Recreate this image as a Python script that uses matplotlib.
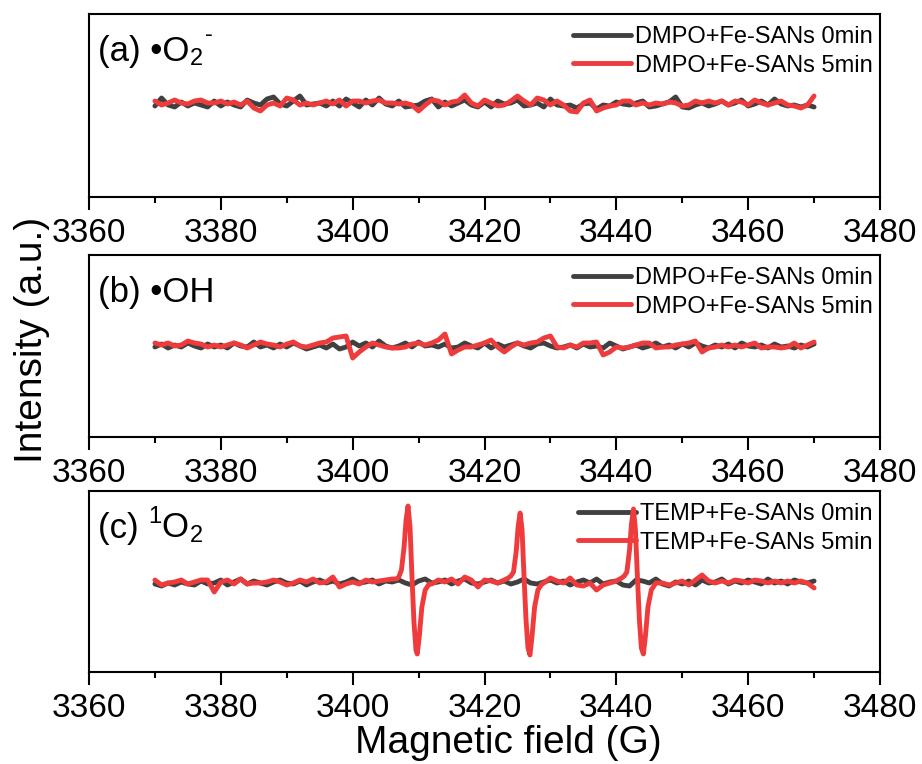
import numpy as np
import matplotlib
matplotlib.use("Agg")
import matplotlib.pyplot as plt
from matplotlib.ticker import MultipleLocator

plt.rcParams["font.family"] = ["Liberation Sans", "DejaVu Sans"]

# Magnetic field grid of the recorded spectra (G)
field = np.arange(3370, 3471, 1.0)

# (a) DMPO spin trap, superoxide channel
a_0min = [-3, 5, -2, -4, 1, -3, 0, -2, -4, 2,
          -3, 1, -2, -4, 3, 0, -2, 4, 6, -1,
          -3, 2, 7, -2, -1, 0, -3, 2, -3, 4,
          0, -4, 3, -2, 5, -1, -3, 2, -4, -3,
          -2, 2, 4, -4, 1, -3, 0, 3, -2, -4,
          1, -4, 2, -1, 0, 3, -3, -2, 0, -4,
          4, -2, -3, -2, -5, -1, 0, -6, -2, -3,
          1, -1, -2, 0, 2, -4, -3, -1, 1, 6,
          -4, -5, -2, 0, -3, -1, 2, -2, 0, 3,
          -3, -1, 2, -2, 4, -1, -3, -2, -4, -2,
          -4]
a_5min = [2, -2, 0, 3, 0, -1, 2, 3, 0, 0,
          2, -1, 1, -2, 2, -5, -8, -2, 0, -3,
          5, 3, -2, 0, -2, 0, 2, -1, 3, -3,
          2, 2, 0, 2, 3, 0, 0, -1, 0, -2,
          -8, -2, 3, 2, -2, 1, 2, 8, 0, -3,
          3, 0, -3, -2, 2, 7, 2, -2, 5, 3,
          -2, 2, -2, -8, -9, 0, 3, -8, -5, -3,
          -2, 2, 2, -2, 0, -2, 0, -1, 1, 0,
          -3, -2, 2, 0, 2, 0, 2, -2, 2, 1,
          -2, 3, 0, -2, 0, 2, -2, -3, -5, -2,
          7]

# (b) DMPO spin trap, hydroxyl channel
b_0min = [-2, 1, -3, 0, -2, 2, -1, -3, 1, -2,
          0, -3, 2, -1, -2, 3, -2, 0, -3, 1,
          -2, 2, -1, -4, -2, 0, -3, 1, -4, -2,
          3, -1, 2, -2, 4, -1, -3, -1, 2, -2,
          3, -1, 0, -2, 1, -3, -2, 2, -1, -3,
          2, -3, 1, -2, 0, 2, -1, -3, 1, 2,
          -1, -3, -2, 0, -3, 1, -2, -1, -3, 2,
          -1, -4, -2, 0, -3, -1, 2, -2, 0, -3,
          1, -2, 2, -1, -3, 0, -2, 1, -3, 2,
          -1, -2, 0, -3, 1, -2, -1, -3, 0, -2,
          1]
b_5min = [2, 0, 2, -1, 0, 4, 2, 1, -2, 0,
          -2, 0, 2, 0, -3, 0, 3, 1, 0, -2,
          1, 3, -1, -2, 0, 2, 3, 7, 8, 9,
          -13, -7, -2, 2, 0, -2, -3, -3, -2, 1,
          2, 0, 2, 5, 11, -9, -5, -2, -2, 0,
          2, 5, -2, -7, -2, 2, 0, 2, 3, 7,
          9, -2, -3, 0, -2, 2, 2, 3, -10, -7,
          -2, -3, -2, 0, 2, 2, -3, -2, -2, 0,
          1, 2, 4, -7, -3, -2, 0, -2, 0, -2,
          0, 2, -3, -2, -2, -3, -2, 2, -3, 0,
          3]

# (c) TEMP spin trap, singlet oxygen channel
c_0min = [-2, -4, -1, -3, 0, -2, -3, 1, -2, -1,
          2, -3, 0, 3, -2, 1, -1, -3, 0, 2,
          -1, -2, 1, -3, 0, 2, -1, 1, -2, 0,
          3, -1, 0, 2, -2, 1, 0, 2, -1, -3,
          1, 3, -1, 0, 2, -2, 1, 3, -1, -2,
          0, 2, -1, 1, -2, 0, 3, -1, -2, 0,
          2, -1, 1, -3, 0, 2, -1, 3, -2, 0,
          1, -3, -4, 2, 1, -1, 3, -2, -4, 0,
          -2, 1, -3, 2, -1, 0, 3, -2, 1, -1,
          2, 0, -2, 3, -1, 1, -2, 2, 0, -1,
          1]
c_5min_baseline = [2, -3, -1, 0, 2, -2, 0, 2, 2, -10,
                   0, 2, -2, 3, -2, -1, -1, 0, 2, 0,
                   -3, -1, 2, 0, 3, -1, 0, 5, -5, -2,
                   0, -2, 2, 0, 1, 2, 3, 3, 0, 0,
                   0, 0, -2, 2, 0, 3, -2, 5, 2, -5,
                   2, 1, -1, 2, 4, 0, 0, 0, 0, -1,
                   4, 1, -1, 4, -3, -4, -1, -8, -3, -1,
                   1, 4, 0, 0, 0, 0, -1, -1, -3, -1,
                   1, -3, 2, 7, 1, -1, 1, -1, 2, 1,
                   -1, 2, 1, -1, 1, -1, 1, -1, 1, -1,
                   -6]

# TEMPO triplet lines of the 5 min spectrum (finer field sampling)
c_line1_field = [3406.6, 3407.0, 3407.4, 3407.8, 3408.1, 3408.4, 3408.7, 3409.0,
                 3409.3, 3409.6, 3409.8, 3410.1, 3410.5, 3411.0, 3411.6]
c_line1_value = [3, 5, 12, 35, 62, 76, 55, 5, -40, -68, -72, -55, -25, -8, -2]
c_line2_field = [3423.6, 3424.0, 3424.4, 3424.8, 3425.1, 3425.4, 3425.7, 3426.0,
                 3426.3, 3426.6, 3426.9, 3427.2, 3427.6, 3428.1, 3428.7]
c_line2_value = [4, 6, 10, 30, 55, 69, 52, 5, -38, -66, -73, -55, -25, -8, -2]
c_line3_field = [3440.8, 3441.2, 3441.6, 3442.0, 3442.3, 3442.6, 3442.9, 3443.2,
                 3443.5, 3443.8, 3444.1, 3444.4, 3444.8, 3445.3, 3445.9]
c_line3_value = [4, 6, 10, 32, 58, 73, 52, 5, -38, -66, -72, -55, -25, -8, -2]

legend_dmpo = ["DMPO+Fe-SANs 0min", "DMPO+Fe-SANs 5min"]
legend_temp = ["TEMP+Fe-SANs 0min", "TEMP+Fe-SANs 5min"]

GRAY = "#404040"
RED = "#EF3B3B"
LW = 3.5

# merge the coarse baseline with the finely sampled triplet lines
line_fields = [c_line1_field, c_line2_field, c_line3_field]
line_values = [c_line1_value, c_line2_value, c_line3_value]
keep = np.ones(field.size, dtype=bool)
for lf in line_fields:
    keep &= ~((field >= lf[0]) & (field <= lf[-1]))
c_red_x = np.concatenate([field[keep]] + [np.asarray(f) for f in line_fields])
c_red_y = np.concatenate([np.asarray(c_5min_baseline, float)[keep]]
                         + [np.asarray(v, float) for v in line_values])
order = np.argsort(c_red_x)
c_red_x, c_red_y = c_red_x[order], c_red_y[order]

W, H = 922, 764
fig = plt.figure(figsize=(W / 100, H / 100), dpi=100)


def panel(left, top, right, bottom):
    return fig.add_axes([left / W, 1 - bottom / H, (right - left) / W, (bottom - top) / H])


ax_a = panel(89, 14, 880, 197)
ax_b = panel(89, 255, 880, 437)
ax_c = panel(89, 491, 880, 672)

panels = [
    (ax_a, field, a_0min, field, a_5min, legend_dmpo, (-94, 89)),
    (ax_b, field, b_0min, field, b_5min, legend_dmpo, (-92, 90)),
    (ax_c, field, c_0min, c_red_x, c_red_y, legend_temp, (-90, 91)),
]

line_kw = dict(lw=LW, solid_joinstyle="round", solid_capstyle="round")
for ax, x0, y0, x5, y5, labels, ylim in panels:
    ax.plot(x0, y0, color=GRAY, label=labels[0], **line_kw)
    ax.plot(x5, y5, color=RED, label=labels[1], **line_kw)
    ax.set_xlim(3360, 3480)
    ax.set_ylim(*ylim)
    ax.xaxis.set_major_locator(MultipleLocator(20))
    ax.xaxis.set_minor_locator(MultipleLocator(10))
    ax.tick_params(axis="x", which="major", direction="out", length=9, width=1.5,
                   labelsize=24, pad=6)
    ax.tick_params(axis="x", which="minor", direction="out", length=4.5, width=1.5)
    ax.set_yticks([])
    for s in ax.spines.values():
        s.set_linewidth(1.5)
    leg = ax.legend(loc="upper right", bbox_to_anchor=(1.007, 1.005), frameon=False,
                    fontsize=17, handlelength=2.45, handletextpad=0.18,
                    labelspacing=0.28, borderaxespad=0.35, borderpad=0.2)
    leg.set_zorder(1)

# panel titles with chemical sub/superscripts
LBL = 25
SMALL = 17
ty = 1 - 47 / 182

t = ax_a.text(0.011, ty, "(a) \u2022O", transform=ax_a.transAxes, fontsize=LBL, va="baseline")
s = ax_a.annotate("2", xy=(1, 0), xycoords=t, xytext=(0.5, 2), textcoords="offset points",
                  fontsize=SMALL, va="baseline")
ax_a.annotate("-", xy=(1, 0), xycoords=s, xytext=(1.5, 21), textcoords="offset points",
              fontsize=SMALL, va="baseline")

ax_b.text(0.011, ty, "(b) \u2022OH", transform=ax_b.transAxes, fontsize=LBL, va="baseline")

t = ax_c.text(0.011, ty, "(c) ", transform=ax_c.transAxes, fontsize=LBL, va="baseline")
sup = ax_c.annotate("1", xy=(1, 0), xycoords=t, xytext=(0, 5.3 + 10), textcoords="offset points",
                    fontsize=SMALL, va="baseline")
o = ax_c.annotate("O", xy=(1, 0), xycoords=sup, xytext=(0.5, 3.6 - 10), textcoords="offset points",
                  fontsize=LBL, va="baseline")
ax_c.annotate("2", xy=(1, 0), xycoords=o, xytext=(0.5, 2), textcoords="offset points",
              fontsize=SMALL, va="baseline")

fig.text(508 / W, 1 - 753 / H, "Magnetic field (G)", fontsize=28, ha="center", va="baseline")
fig.text(32 / W, 1 - 340 / H, "Intensity (a.u.)", fontsize=28, rotation=90,
         ha="center", va="center")

fig.savefig("out.png", dpi=100)
